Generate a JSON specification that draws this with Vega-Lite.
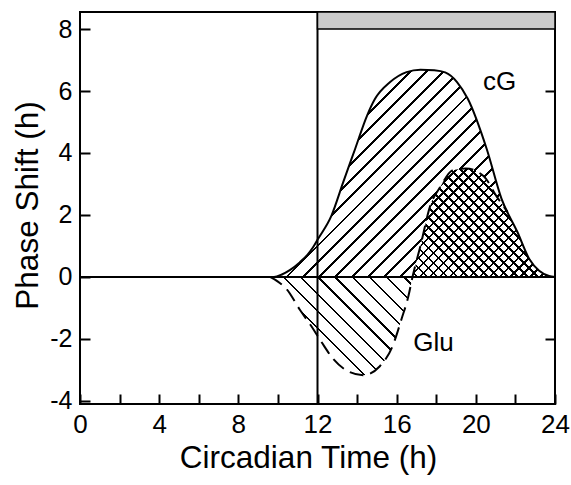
{
  "$schema": "https://vega.github.io/schema/vega-lite/v6.json",
  "width": 475,
  "height": 392,
  "autosize": {"type": "none"},
  "padding": {"left": 80, "top": 12, "right": 16, "bottom": 81},
  "background": "white",
  "config": {
    "view": {"stroke": "black", "strokeWidth": 2},
    "font": "Liberation Sans",
    "axis": {
      "grid": false, "domain": false, "tickColor": "black", "tickWidth": 2, "tickSize": -10,
      "labelColor": "black", "labelFontSize": 25, "labelFont": "Liberation Sans",
      "titleColor": "black", "titleFontWeight": "normal", "titleFontSize": 31.5, "titleFont": "Liberation Sans",
      "labelOverlap": false, "labelFlush": false
    }
  },
  "datasets": {
    "cg": [
      {"t": 0, "v": 0}, {"t": 9.8, "v": 0}, {"t": 10.2, "v": 0.08}, {"t": 10.6, "v": 0.22},
      {"t": 11.1, "v": 0.47}, {"t": 11.5, "v": 0.72}, {"t": 11.8, "v": 0.98}, {"t": 12.0, "v": 1.2},
      {"t": 12.7, "v": 1.97}, {"t": 13.3, "v": 3.06}, {"t": 13.9, "v": 4.13}, {"t": 14.5, "v": 5.2},
      {"t": 14.9, "v": 5.74}, {"t": 15.67, "v": 6.29}, {"t": 16.5, "v": 6.61}, {"t": 17.2, "v": 6.69},
      {"t": 17.9, "v": 6.67}, {"t": 18.45, "v": 6.6}, {"t": 19.05, "v": 6.29}, {"t": 19.6, "v": 5.74},
      {"t": 20.55, "v": 4.13}, {"t": 21.3, "v": 2.52}, {"t": 22.1, "v": 1.45}, {"t": 22.7, "v": 0.58},
      {"t": 23.2, "v": 0.2}, {"t": 23.7, "v": 0.03}, {"t": 24, "v": 0}
    ],
    "glu": [
      {"t": 9.6, "v": 0}, {"t": 10.0, "v": -0.15}, {"t": 10.45, "v": -0.4}, {"t": 11.1, "v": -1.05},
      {"t": 11.7, "v": -1.6}, {"t": 12.2, "v": -2.1}, {"t": 12.8, "v": -2.65}, {"t": 13.5, "v": -3.03},
      {"t": 14.3, "v": -3.17}, {"t": 15.15, "v": -2.88}, {"t": 15.8, "v": -2.22}, {"t": 16.25, "v": -1.35},
      {"t": 16.6, "v": -0.6}, {"t": 16.8, "v": 0}, {"t": 17.2, "v": 1.0}, {"t": 17.7, "v": 2.3},
      {"t": 18.2, "v": 2.9}, {"t": 18.85, "v": 3.45}, {"t": 19.5, "v": 3.5}, {"t": 20.4, "v": 3.25},
      {"t": 21.05, "v": 2.6}, {"t": 21.6, "v": 2.1}, {"t": 22.1, "v": 1.45}, {"t": 22.7, "v": 0.58},
      {"t": 23.2, "v": 0.2}, {"t": 23.7, "v": 0.03}, {"t": 24, "v": 0}
    ]
  },
  "resolve": {"axis": {"x": "independent", "y": "independent"}},
  "layer": [
    {
      "data": {"name": "cg"},
      "transform": [{"filter": "datum.t >= 9.8"}],
      "mark": {
        "type": "area", "interpolate": "monotone",
        "fill": {
          "gradient": "linear", "x1": 0, "y1": 0, "x2": 1.1253, "y2": 0.8302,
          "stops": [
            {"offset": 0.0140, "color": "transparent"}, {"offset": 0.0140, "color": "#000"}, {"offset": 0.0200, "color": "#000"}, {"offset": 0.0200, "color": "transparent"},
            {"offset": 0.0473, "color": "transparent"}, {"offset": 0.0473, "color": "#000"}, {"offset": 0.0533, "color": "#000"}, {"offset": 0.0533, "color": "transparent"},
            {"offset": 0.0806, "color": "transparent"}, {"offset": 0.0806, "color": "#000"}, {"offset": 0.0866, "color": "#000"}, {"offset": 0.0866, "color": "transparent"},
            {"offset": 0.1140, "color": "transparent"}, {"offset": 0.1140, "color": "#000"}, {"offset": 0.1200, "color": "#000"}, {"offset": 0.1200, "color": "transparent"},
            {"offset": 0.1473, "color": "transparent"}, {"offset": 0.1473, "color": "#000"}, {"offset": 0.1533, "color": "#000"}, {"offset": 0.1533, "color": "transparent"},
            {"offset": 0.1806, "color": "transparent"}, {"offset": 0.1806, "color": "#000"}, {"offset": 0.1866, "color": "#000"}, {"offset": 0.1866, "color": "transparent"},
            {"offset": 0.2140, "color": "transparent"}, {"offset": 0.2140, "color": "#000"}, {"offset": 0.2200, "color": "#000"}, {"offset": 0.2200, "color": "transparent"},
            {"offset": 0.2473, "color": "transparent"}, {"offset": 0.2473, "color": "#000"}, {"offset": 0.2533, "color": "#000"}, {"offset": 0.2533, "color": "transparent"},
            {"offset": 0.2806, "color": "transparent"}, {"offset": 0.2806, "color": "#000"}, {"offset": 0.2866, "color": "#000"}, {"offset": 0.2866, "color": "transparent"},
            {"offset": 0.3140, "color": "transparent"}, {"offset": 0.3140, "color": "#000"}, {"offset": 0.3200, "color": "#000"}, {"offset": 0.3200, "color": "transparent"},
            {"offset": 0.3473, "color": "transparent"}, {"offset": 0.3473, "color": "#000"}, {"offset": 0.3533, "color": "#000"}, {"offset": 0.3533, "color": "transparent"},
            {"offset": 0.3806, "color": "transparent"}, {"offset": 0.3806, "color": "#000"}, {"offset": 0.3866, "color": "#000"}, {"offset": 0.3866, "color": "transparent"},
            {"offset": 0.4140, "color": "transparent"}, {"offset": 0.4140, "color": "#000"}, {"offset": 0.4200, "color": "#000"}, {"offset": 0.4200, "color": "transparent"},
            {"offset": 0.4473, "color": "transparent"}, {"offset": 0.4473, "color": "#000"}, {"offset": 0.4533, "color": "#000"}, {"offset": 0.4533, "color": "transparent"},
            {"offset": 0.4806, "color": "transparent"}, {"offset": 0.4806, "color": "#000"}, {"offset": 0.4866, "color": "#000"}, {"offset": 0.4866, "color": "transparent"},
            {"offset": 0.5140, "color": "transparent"}, {"offset": 0.5140, "color": "#000"}, {"offset": 0.5200, "color": "#000"}, {"offset": 0.5200, "color": "transparent"},
            {"offset": 0.5473, "color": "transparent"}, {"offset": 0.5473, "color": "#000"}, {"offset": 0.5533, "color": "#000"}, {"offset": 0.5533, "color": "transparent"},
            {"offset": 0.5806, "color": "transparent"}, {"offset": 0.5806, "color": "#000"}, {"offset": 0.5866, "color": "#000"}, {"offset": 0.5866, "color": "transparent"},
            {"offset": 0.6140, "color": "transparent"}, {"offset": 0.6140, "color": "#000"}, {"offset": 0.6200, "color": "#000"}, {"offset": 0.6200, "color": "transparent"},
            {"offset": 0.6473, "color": "transparent"}, {"offset": 0.6473, "color": "#000"}, {"offset": 0.6533, "color": "#000"}, {"offset": 0.6533, "color": "transparent"},
            {"offset": 0.6806, "color": "transparent"}, {"offset": 0.6806, "color": "#000"}, {"offset": 0.6866, "color": "#000"}, {"offset": 0.6866, "color": "transparent"},
            {"offset": 0.7140, "color": "transparent"}, {"offset": 0.7140, "color": "#000"}, {"offset": 0.7200, "color": "#000"}, {"offset": 0.7200, "color": "transparent"},
            {"offset": 0.7473, "color": "transparent"}, {"offset": 0.7473, "color": "#000"}, {"offset": 0.7533, "color": "#000"}, {"offset": 0.7533, "color": "transparent"},
            {"offset": 0.7806, "color": "transparent"}, {"offset": 0.7806, "color": "#000"}, {"offset": 0.7866, "color": "#000"}, {"offset": 0.7866, "color": "transparent"},
            {"offset": 0.8140, "color": "transparent"}, {"offset": 0.8140, "color": "#000"}, {"offset": 0.8200, "color": "#000"}, {"offset": 0.8200, "color": "transparent"},
            {"offset": 0.8473, "color": "transparent"}, {"offset": 0.8473, "color": "#000"}, {"offset": 0.8533, "color": "#000"}, {"offset": 0.8533, "color": "transparent"},
            {"offset": 0.8806, "color": "transparent"}, {"offset": 0.8806, "color": "#000"}, {"offset": 0.8866, "color": "#000"}, {"offset": 0.8866, "color": "transparent"},
            {"offset": 0.9140, "color": "transparent"}, {"offset": 0.9140, "color": "#000"}, {"offset": 0.9200, "color": "#000"}, {"offset": 0.9200, "color": "transparent"},
            {"offset": 0.9473, "color": "transparent"}, {"offset": 0.9473, "color": "#000"}, {"offset": 0.9533, "color": "#000"}, {"offset": 0.9533, "color": "transparent"},
            {"offset": 0.9806, "color": "transparent"}, {"offset": 0.9806, "color": "#000"}, {"offset": 0.9866, "color": "#000"}, {"offset": 0.9866, "color": "transparent"}
          ]
        }
      },
      "encoding": {
        "x": {
          "field": "t", "type": "quantitative",
          "scale": {"domain": [0, 24], "nice": false, "zero": false},
          "axis": {
            "orient": "bottom",
            "values": [0, 2, 4, 6, 8, 10, 12, 14, 16, 18, 20, 22, 24],
            "labelExpr": "datum.value % 4 === 0 ? datum.value + '' : ''",
            "tickSize": -10,
            "labelFontSize": 26,
            "labelPadding": 17,
            "title": "Circadian Time (h)",
            "titleX": 228, "titleY": 63, "titleBaseline": "alphabetic"
          }
        },
        "y": {
          "field": "v", "type": "quantitative",
          "scale": {"domain": [-4.1, 8.55], "nice": false, "zero": false},
          "axis": {
            "orient": "left",
            "values": [-4, -2, 0, 2, 4, 6, 8],
            "labelExpr": "datum.value + ''",
            "tickSize": -10,
            "labelPadding": 18,
            "title": "Phase Shift (h)",
            "titleX": -43, "titleY": 193, "titleBaseline": "alphabetic"
          }
        },
        "y2": {"datum": 0}
      }
    },
    {
      "data": {"name": "glu"},
      "transform": [{"filter": "datum.t <= 16.8"}],
      "mark": {
        "type": "area", "interpolate": "monotone",
        "fill": {
          "gradient": "linear", "x1": 0, "y1": 1, "x2": 1.1452, "y2": 0.2108,
          "stops": [
            {"offset": 0.0307, "color": "transparent"}, {"offset": 0.0307, "color": "#000"}, {"offset": 0.0407, "color": "#000"}, {"offset": 0.0407, "color": "transparent"},
            {"offset": 0.1021, "color": "transparent"}, {"offset": 0.1021, "color": "#000"}, {"offset": 0.1121, "color": "#000"}, {"offset": 0.1121, "color": "transparent"},
            {"offset": 0.1736, "color": "transparent"}, {"offset": 0.1736, "color": "#000"}, {"offset": 0.1836, "color": "#000"}, {"offset": 0.1836, "color": "transparent"},
            {"offset": 0.2450, "color": "transparent"}, {"offset": 0.2450, "color": "#000"}, {"offset": 0.2550, "color": "#000"}, {"offset": 0.2550, "color": "transparent"},
            {"offset": 0.3164, "color": "transparent"}, {"offset": 0.3164, "color": "#000"}, {"offset": 0.3264, "color": "#000"}, {"offset": 0.3264, "color": "transparent"},
            {"offset": 0.3879, "color": "transparent"}, {"offset": 0.3879, "color": "#000"}, {"offset": 0.3979, "color": "#000"}, {"offset": 0.3979, "color": "transparent"},
            {"offset": 0.4593, "color": "transparent"}, {"offset": 0.4593, "color": "#000"}, {"offset": 0.4693, "color": "#000"}, {"offset": 0.4693, "color": "transparent"},
            {"offset": 0.5307, "color": "transparent"}, {"offset": 0.5307, "color": "#000"}, {"offset": 0.5407, "color": "#000"}, {"offset": 0.5407, "color": "transparent"},
            {"offset": 0.6021, "color": "transparent"}, {"offset": 0.6021, "color": "#000"}, {"offset": 0.6121, "color": "#000"}, {"offset": 0.6121, "color": "transparent"},
            {"offset": 0.6736, "color": "transparent"}, {"offset": 0.6736, "color": "#000"}, {"offset": 0.6836, "color": "#000"}, {"offset": 0.6836, "color": "transparent"},
            {"offset": 0.7450, "color": "transparent"}, {"offset": 0.7450, "color": "#000"}, {"offset": 0.7550, "color": "#000"}, {"offset": 0.7550, "color": "transparent"},
            {"offset": 0.8164, "color": "transparent"}, {"offset": 0.8164, "color": "#000"}, {"offset": 0.8264, "color": "#000"}, {"offset": 0.8264, "color": "transparent"},
            {"offset": 0.8879, "color": "transparent"}, {"offset": 0.8879, "color": "#000"}, {"offset": 0.8979, "color": "#000"}, {"offset": 0.8979, "color": "transparent"},
            {"offset": 0.9593, "color": "transparent"}, {"offset": 0.9593, "color": "#000"}, {"offset": 0.9693, "color": "#000"}, {"offset": 0.9693, "color": "transparent"}
          ]
        }
      },
      "encoding": {
        "x": {"field": "t", "type": "quantitative", "axis": null},
        "y": {"field": "v", "type": "quantitative", "axis": null},
        "y2": {"datum": 0}
      }
    },
    {
      "data": {"name": "glu"},
      "transform": [{"filter": "datum.t >= 16.8"}],
      "mark": {
        "type": "area", "interpolate": "monotone",
        "fill": {
          "gradient": "linear", "x1": 0, "y1": 0, "x2": 1.115, "y2": 0.849,
          "stops": [
            {"offset": 0.015, "color": "#fff"}, {"offset": 0.015, "color": "#000"}, {"offset": 0.025, "color": "#000"}, {"offset": 0.025, "color": "#fff"},
            {"offset": 0.055, "color": "#fff"}, {"offset": 0.055, "color": "#000"}, {"offset": 0.065, "color": "#000"}, {"offset": 0.065, "color": "#fff"},
            {"offset": 0.095, "color": "#fff"}, {"offset": 0.095, "color": "#000"}, {"offset": 0.105, "color": "#000"}, {"offset": 0.105, "color": "#fff"},
            {"offset": 0.135, "color": "#fff"}, {"offset": 0.135, "color": "#000"}, {"offset": 0.145, "color": "#000"}, {"offset": 0.145, "color": "#fff"},
            {"offset": 0.175, "color": "#fff"}, {"offset": 0.175, "color": "#000"}, {"offset": 0.185, "color": "#000"}, {"offset": 0.185, "color": "#fff"},
            {"offset": 0.215, "color": "#fff"}, {"offset": 0.215, "color": "#000"}, {"offset": 0.225, "color": "#000"}, {"offset": 0.225, "color": "#fff"},
            {"offset": 0.255, "color": "#fff"}, {"offset": 0.255, "color": "#000"}, {"offset": 0.265, "color": "#000"}, {"offset": 0.265, "color": "#fff"},
            {"offset": 0.295, "color": "#fff"}, {"offset": 0.295, "color": "#000"}, {"offset": 0.305, "color": "#000"}, {"offset": 0.305, "color": "#fff"},
            {"offset": 0.335, "color": "#fff"}, {"offset": 0.335, "color": "#000"}, {"offset": 0.345, "color": "#000"}, {"offset": 0.345, "color": "#fff"},
            {"offset": 0.375, "color": "#fff"}, {"offset": 0.375, "color": "#000"}, {"offset": 0.385, "color": "#000"}, {"offset": 0.385, "color": "#fff"},
            {"offset": 0.415, "color": "#fff"}, {"offset": 0.415, "color": "#000"}, {"offset": 0.425, "color": "#000"}, {"offset": 0.425, "color": "#fff"},
            {"offset": 0.455, "color": "#fff"}, {"offset": 0.455, "color": "#000"}, {"offset": 0.465, "color": "#000"}, {"offset": 0.465, "color": "#fff"},
            {"offset": 0.495, "color": "#fff"}, {"offset": 0.495, "color": "#000"}, {"offset": 0.505, "color": "#000"}, {"offset": 0.505, "color": "#fff"},
            {"offset": 0.535, "color": "#fff"}, {"offset": 0.535, "color": "#000"}, {"offset": 0.545, "color": "#000"}, {"offset": 0.545, "color": "#fff"},
            {"offset": 0.575, "color": "#fff"}, {"offset": 0.575, "color": "#000"}, {"offset": 0.585, "color": "#000"}, {"offset": 0.585, "color": "#fff"},
            {"offset": 0.615, "color": "#fff"}, {"offset": 0.615, "color": "#000"}, {"offset": 0.625, "color": "#000"}, {"offset": 0.625, "color": "#fff"},
            {"offset": 0.655, "color": "#fff"}, {"offset": 0.655, "color": "#000"}, {"offset": 0.665, "color": "#000"}, {"offset": 0.665, "color": "#fff"},
            {"offset": 0.695, "color": "#fff"}, {"offset": 0.695, "color": "#000"}, {"offset": 0.705, "color": "#000"}, {"offset": 0.705, "color": "#fff"},
            {"offset": 0.735, "color": "#fff"}, {"offset": 0.735, "color": "#000"}, {"offset": 0.745, "color": "#000"}, {"offset": 0.745, "color": "#fff"},
            {"offset": 0.775, "color": "#fff"}, {"offset": 0.775, "color": "#000"}, {"offset": 0.785, "color": "#000"}, {"offset": 0.785, "color": "#fff"},
            {"offset": 0.815, "color": "#fff"}, {"offset": 0.815, "color": "#000"}, {"offset": 0.825, "color": "#000"}, {"offset": 0.825, "color": "#fff"},
            {"offset": 0.855, "color": "#fff"}, {"offset": 0.855, "color": "#000"}, {"offset": 0.865, "color": "#000"}, {"offset": 0.865, "color": "#fff"},
            {"offset": 0.895, "color": "#fff"}, {"offset": 0.895, "color": "#000"}, {"offset": 0.905, "color": "#000"}, {"offset": 0.905, "color": "#fff"},
            {"offset": 0.935, "color": "#fff"}, {"offset": 0.935, "color": "#000"}, {"offset": 0.945, "color": "#000"}, {"offset": 0.945, "color": "#fff"},
            {"offset": 0.975, "color": "#fff"}, {"offset": 0.975, "color": "#000"}, {"offset": 0.985, "color": "#000"}, {"offset": 0.985, "color": "#fff"}
          ]
        }
      },
      "encoding": {
        "x": {"field": "t", "type": "quantitative", "axis": null},
        "y": {"field": "v", "type": "quantitative", "axis": null},
        "y2": {"datum": 0}
      }
    },
    {
      "data": {"name": "glu"},
      "transform": [{"filter": "datum.t >= 16.8"}],
      "mark": {
        "type": "area", "interpolate": "monotone",
        "fill": {
          "gradient": "linear", "x1": 0, "y1": 1, "x2": 1.115, "y2": 0.151,
          "stops": [
            {"offset": 0.015, "color": "transparent"}, {"offset": 0.015, "color": "#000"}, {"offset": 0.025, "color": "#000"}, {"offset": 0.025, "color": "transparent"},
            {"offset": 0.055, "color": "transparent"}, {"offset": 0.055, "color": "#000"}, {"offset": 0.065, "color": "#000"}, {"offset": 0.065, "color": "transparent"},
            {"offset": 0.095, "color": "transparent"}, {"offset": 0.095, "color": "#000"}, {"offset": 0.105, "color": "#000"}, {"offset": 0.105, "color": "transparent"},
            {"offset": 0.135, "color": "transparent"}, {"offset": 0.135, "color": "#000"}, {"offset": 0.145, "color": "#000"}, {"offset": 0.145, "color": "transparent"},
            {"offset": 0.175, "color": "transparent"}, {"offset": 0.175, "color": "#000"}, {"offset": 0.185, "color": "#000"}, {"offset": 0.185, "color": "transparent"},
            {"offset": 0.215, "color": "transparent"}, {"offset": 0.215, "color": "#000"}, {"offset": 0.225, "color": "#000"}, {"offset": 0.225, "color": "transparent"},
            {"offset": 0.255, "color": "transparent"}, {"offset": 0.255, "color": "#000"}, {"offset": 0.265, "color": "#000"}, {"offset": 0.265, "color": "transparent"},
            {"offset": 0.295, "color": "transparent"}, {"offset": 0.295, "color": "#000"}, {"offset": 0.305, "color": "#000"}, {"offset": 0.305, "color": "transparent"},
            {"offset": 0.335, "color": "transparent"}, {"offset": 0.335, "color": "#000"}, {"offset": 0.345, "color": "#000"}, {"offset": 0.345, "color": "transparent"},
            {"offset": 0.375, "color": "transparent"}, {"offset": 0.375, "color": "#000"}, {"offset": 0.385, "color": "#000"}, {"offset": 0.385, "color": "transparent"},
            {"offset": 0.415, "color": "transparent"}, {"offset": 0.415, "color": "#000"}, {"offset": 0.425, "color": "#000"}, {"offset": 0.425, "color": "transparent"},
            {"offset": 0.455, "color": "transparent"}, {"offset": 0.455, "color": "#000"}, {"offset": 0.465, "color": "#000"}, {"offset": 0.465, "color": "transparent"},
            {"offset": 0.495, "color": "transparent"}, {"offset": 0.495, "color": "#000"}, {"offset": 0.505, "color": "#000"}, {"offset": 0.505, "color": "transparent"},
            {"offset": 0.535, "color": "transparent"}, {"offset": 0.535, "color": "#000"}, {"offset": 0.545, "color": "#000"}, {"offset": 0.545, "color": "transparent"},
            {"offset": 0.575, "color": "transparent"}, {"offset": 0.575, "color": "#000"}, {"offset": 0.585, "color": "#000"}, {"offset": 0.585, "color": "transparent"},
            {"offset": 0.615, "color": "transparent"}, {"offset": 0.615, "color": "#000"}, {"offset": 0.625, "color": "#000"}, {"offset": 0.625, "color": "transparent"},
            {"offset": 0.655, "color": "transparent"}, {"offset": 0.655, "color": "#000"}, {"offset": 0.665, "color": "#000"}, {"offset": 0.665, "color": "transparent"},
            {"offset": 0.695, "color": "transparent"}, {"offset": 0.695, "color": "#000"}, {"offset": 0.705, "color": "#000"}, {"offset": 0.705, "color": "transparent"},
            {"offset": 0.735, "color": "transparent"}, {"offset": 0.735, "color": "#000"}, {"offset": 0.745, "color": "#000"}, {"offset": 0.745, "color": "transparent"},
            {"offset": 0.775, "color": "transparent"}, {"offset": 0.775, "color": "#000"}, {"offset": 0.785, "color": "#000"}, {"offset": 0.785, "color": "transparent"},
            {"offset": 0.815, "color": "transparent"}, {"offset": 0.815, "color": "#000"}, {"offset": 0.825, "color": "#000"}, {"offset": 0.825, "color": "transparent"},
            {"offset": 0.855, "color": "transparent"}, {"offset": 0.855, "color": "#000"}, {"offset": 0.865, "color": "#000"}, {"offset": 0.865, "color": "transparent"},
            {"offset": 0.895, "color": "transparent"}, {"offset": 0.895, "color": "#000"}, {"offset": 0.905, "color": "#000"}, {"offset": 0.905, "color": "transparent"},
            {"offset": 0.935, "color": "transparent"}, {"offset": 0.935, "color": "#000"}, {"offset": 0.945, "color": "#000"}, {"offset": 0.945, "color": "transparent"},
            {"offset": 0.975, "color": "transparent"}, {"offset": 0.975, "color": "#000"}, {"offset": 0.985, "color": "#000"}, {"offset": 0.985, "color": "transparent"}
          ]
        }
      },
      "encoding": {
        "x": {"field": "t", "type": "quantitative", "axis": null},
        "y": {"field": "v", "type": "quantitative", "axis": null},
        "y2": {"datum": 0}
      }
    },
    {
      "data": {"values": [{}]},
      "mark": {"type": "rule", "color": "black", "strokeWidth": 2},
      "encoding": {"y": {"datum": 0, "type": "quantitative", "axis": null}}
    },
    {
      "data": {"name": "cg"},
      "mark": {"type": "line", "interpolate": "monotone", "color": "black", "strokeWidth": 2},
      "encoding": {
        "x": {"field": "t", "type": "quantitative", "axis": null},
        "y": {
          "field": "v", "type": "quantitative",
          "scale": {"domain": [-4.1, 8.55], "nice": false, "zero": false},
          "axis": {"orient": "right", "values": [-2, 2, 4, 6], "labels": false, "title": null, "tickSize": -10}
        }
      }
    },
    {
      "data": {"name": "glu"},
      "transform": [{"filter": "datum.t <= 21.6"}],
      "mark": {"type": "line", "interpolate": "monotone", "color": "black", "strokeWidth": 2, "strokeDash": [14, 7]},
      "encoding": {
        "x": {"field": "t", "type": "quantitative", "axis": null},
        "y": {"field": "v", "type": "quantitative", "axis": null}
      }
    },
    {
      "data": {"values": [{}]},
      "mark": {"type": "rule", "color": "black", "strokeWidth": 2},
      "encoding": {"x": {"datum": 12, "type": "quantitative", "axis": null}}
    },
    {
      "data": {"values": [{"start": 12, "end": 24, "lo": 8, "hi": 8.55}]},
      "mark": {"type": "rect", "fill": "#cbcbcb", "stroke": "black", "strokeWidth": 1.5},
      "encoding": {
        "x": {"field": "start", "type": "quantitative", "axis": null},
        "x2": {"field": "end"},
        "y": {"field": "lo", "type": "quantitative", "axis": null},
        "y2": {"field": "hi"}
      }
    },
    {
      "data": {"values": [{"label": "cG", "t": 21.2, "v": 6.3}, {"label": "Glu", "t": 17.86, "v": -2.13}]},
      "mark": {"type": "text", "fontSize": 26, "font": "Liberation Sans", "color": "black", "align": "center", "baseline": "middle"},
      "encoding": {
        "x": {"field": "t", "type": "quantitative", "axis": null},
        "y": {"field": "v", "type": "quantitative", "axis": null},
        "text": {"field": "label"}
      }
    }
  ]
}
